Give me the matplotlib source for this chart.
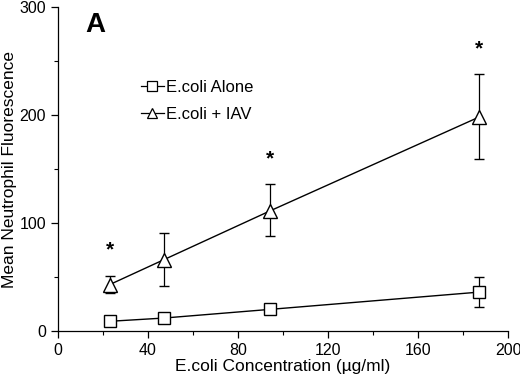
import matplotlib
matplotlib.use("Agg")
import matplotlib.pyplot as plt
from matplotlib.ticker import MultipleLocator
from matplotlib.lines import Line2D

plt.rcParams['font.family'] = ['Liberation Sans', 'DejaVu Sans']

conc = [23, 47, 94, 187]
alone = [9, 12, 20, 36]
alone_err = [0, 0, 0, 14]
iav = [43, 66, 111, 198]
iav_err_lo = [8, 24, 23, 39]
iav_err_hi = [8, 25, 25, 40]
star_x = [23, 94, 187]
star_y = [75, 159, 261]
labels = ['E.coli Alone', 'E.coli + IAV']

fig = plt.figure(figsize=(5.2, 3.79), dpi=100)
ax = fig.add_axes([0.1115, 0.1266, 0.8655, 0.8549])

ax.errorbar(conc, alone, yerr=alone_err, color='black', lw=1.0, marker='s',
            ms=8.5, mfc='white', mec='black', mew=1.0, capsize=3.5, elinewidth=0.9,
            capthick=0.9, zorder=3)
ax.errorbar(conc, iav, yerr=[iav_err_lo, iav_err_hi], color='black', lw=1.0, marker='^',
            ms=9.5, mfc='white', mec='black', mew=1.0, capsize=3.5, elinewidth=0.9,
            capthick=0.9, zorder=3)

for sx, sy in zip(star_x, star_y):
    ax.text(sx, sy, '*', ha='center', va='center', fontsize=15, fontweight='bold')

ax.set_xlim(0, 200)
ax.set_ylim(0, 300)
ax.xaxis.set_major_locator(MultipleLocator(40))
ax.xaxis.set_minor_locator(MultipleLocator(20))
ax.yaxis.set_major_locator(MultipleLocator(100))
ax.yaxis.set_minor_locator(MultipleLocator(50))
ax.tick_params(which='major', length=5, width=0.9, labelsize=11.5, direction='out')
ax.tick_params(which='minor', length=3, width=0.8, direction='out')
for s in ['top', 'right']:
    ax.spines[s].set_visible(False)
for s in ['left', 'bottom']:
    ax.spines[s].set_linewidth(0.9)

ax.set_xlabel('E.coli Concentration (µg/ml)', fontsize=12.5, labelpad=1)
ax.set_ylabel('Mean Neutrophil Fluorescence', fontsize=12.5, labelpad=2)

ax.text(0.06, 0.944, 'A', transform=ax.transAxes, fontsize=20, fontweight='bold',
        ha='left', va='center')

handles = [
    Line2D([], [], color='black', lw=0.9, marker='s', ms=6.5, mfc='white', mec='black', mew=0.9),
    Line2D([], [], color='black', lw=0.9, marker='^', ms=7, mfc='white', mec='black', mew=0.9),
]
leg = ax.legend(handles, labels, loc='upper left', bbox_to_anchor=(0.17, 0.795), frameon=False,
                fontsize=12, handlelength=1.35, handletextpad=0.15, labelspacing=0.72,
                borderaxespad=0)

fig.savefig('out.png', dpi=100)
